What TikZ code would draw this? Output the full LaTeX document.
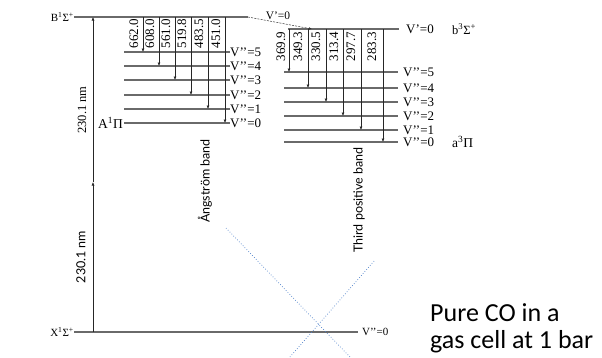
\documentclass[tikz,border=0pt]{standalone}
\usepackage{fontspec}
\setmainfont{Liberation Serif}
\newfontfamily\gillfont{Lato}
\newfontfamily\calfont{Carlito}
\usetikzlibrary{arrows.meta}
\definecolor{levgray}{HTML}{6A6A6A}
\definecolor{crossblue}{HTML}{4A7EC8}
\begin{document}
\begin{tikzpicture}[x=1pt,y=-1pt,
  level/.style={draw=levgray, line width=1.1pt},
  trans/.style={draw=black!85, line width=0.6pt, -{Latex[length=3.5pt,width=3pt]}},
  lbl/.style={inner sep=0pt, font=\fontsize{13}{13}\selectfont},
  statelbl/.style={inner sep=0pt, font=\fontsize{11}{11}\selectfont},
  num/.style={inner sep=0pt, rotate=90, anchor=east, font=\fontsize{13}{13}\selectfont},
  band/.style={inner sep=0pt, rotate=90, font=\gillfont\fontsize{12.5}{12.5}\selectfont},
  cross/.style={draw=crossblue, dotted, line width=0.7pt},
  note/.style={inner sep=0pt, anchor=base west, font=\calfont\fontsize{26}{28}\selectfont}]
\useasboundingbox (0,0) rectangle (602,357);

% ---- B state and X state ----
\node[statelbl, anchor=east] (Blab) at (74,17) {B\textsuperscript{1}Σ\textsuperscript{+}};
\coordinate (Bend) at (248,17);
\draw[level] (Blab.east) -- (Bend);

\node[statelbl, anchor=east] (Xlab) at (74,332) {X\textsuperscript{1}Σ\textsuperscript{+}};
\coordinate (Xend) at (358,332);
\draw[level] (Xlab.east) -- (Xend);
\node[inner sep=0pt, anchor=west, font=\fontsize{11}{11}\selectfont] (Xv0) at (362,332) {V’’=0};

% ---- excitation arrow ----
\coordinate (ex0) at (93,332);
\coordinate (exm) at (93,182);
\coordinate (ex1) at (93,17);
\draw[trans] (ex0) -- (exm);
\draw[trans] (exm) -- (ex1);
\node[inner sep=0pt, rotate=90, font=\fontsize{12.5}{12.5}\selectfont] (nmA) at (82,110) {230.1 nm};
\node[inner sep=0pt, rotate=90, font=\gillfont\fontsize{12.5}{12.5}\selectfont] (nmB) at (81,257) {230.1 nm};

% ---- A state levels (Angstrom band) ----
\node[inner sep=0pt, anchor=east, font=\fontsize{13.5}{13.5}\selectfont] (Alab) at (123,123) {A\textsuperscript{1}Π};
\foreach \v/\y in {5/52,4/66,3/80,2/95,1/109,0/123}{
  \coordinate (AL\v) at (124,\y);
  \node[lbl, anchor=west] (Av\v) at (230,\y) {V’’=\v};
  \draw[level] (AL\v) -- (Av\v.west);
}
\foreach \x/\v/\t in {143/5/662.0,159/4/608.0,175/3/561.0,191/2/519.8,208/1/483.5,225/0/451.0}{
  \coordinate (As\v) at (\x,17);
  \draw[trans] (As\v) -- (\x,0 |- AL\v);
  \node[num] (An\v) at (\x-9,19) {\t};
}
\node[band] (angband) at (205,181) {Ångström band};

% ---- b state and a state (third positive band) ----
\coordinate (bstart) at (288,29);
\node[lbl, anchor=west] (bv0) at (406,29) {V’=0};
\draw[level] (bstart) -- (399,29);
\node[inner sep=0pt, anchor=west, font=\fontsize{12.5}{12.5}\selectfont] (blab) at (452,29) {b\textsuperscript{3}Σ\textsuperscript{+}};
\coordinate (bhit) at (312,29);
\draw[draw=black!80, line width=0.5pt, dashed, dash pattern=on 2pt off 1.2pt, -{Latex[length=3pt,width=2.5pt]}] (Bend) -- (bhit);
\node[inner sep=0pt, font=\fontsize{11.5}{11.5}\selectfont] (Bv0) at (278,15.5) {V’=0};

\foreach \v/\y in {5/72,4/88,3/102,2/116,1/130,0/142}{
  \coordinate (aL\v) at (284,\y);
  \node[lbl, anchor=west] (av\v) at (403,\y) {V’’=\v};
  \draw[level] (aL\v) -- (398,\y);
}
\node[inner sep=0pt, anchor=west, font=\fontsize{13.5}{13.5}\selectfont] (alab) at (452,142) {a\textsuperscript{3}Π};
\foreach \x/\v/\t/\c in {289/5/369.9/281,308/4/349.3/298,326/3/330.5/316,343/2/313.4/334,361/1/297.7/351,383/0/283.3/372}{
  \coordinate (bs\v) at (\x,29);
  \draw[trans] (bs\v) -- (\x,0 |- aL\v);
  \node[num] (bn\v) at (\c,32) {\t};
}
\node[band] (thirdband) at (359,200) {Third positive band};

% ---- blue cross ----
\coordinate (c1a) at (226,228);
\coordinate (c1b) at (350,357);
\coordinate (c2a) at (374,261);
\coordinate (c2b) at (290,357);
\draw[cross] (c1a) -- (c1b);
\draw[cross] (c2a) -- (c2b);

% ---- note ----
\node[note] (note1) at (430,321) {Pure CO in a};
\node[note] (note2) at (430,348) {gas cell at 1 bar};
\end{tikzpicture}
\end{document}
